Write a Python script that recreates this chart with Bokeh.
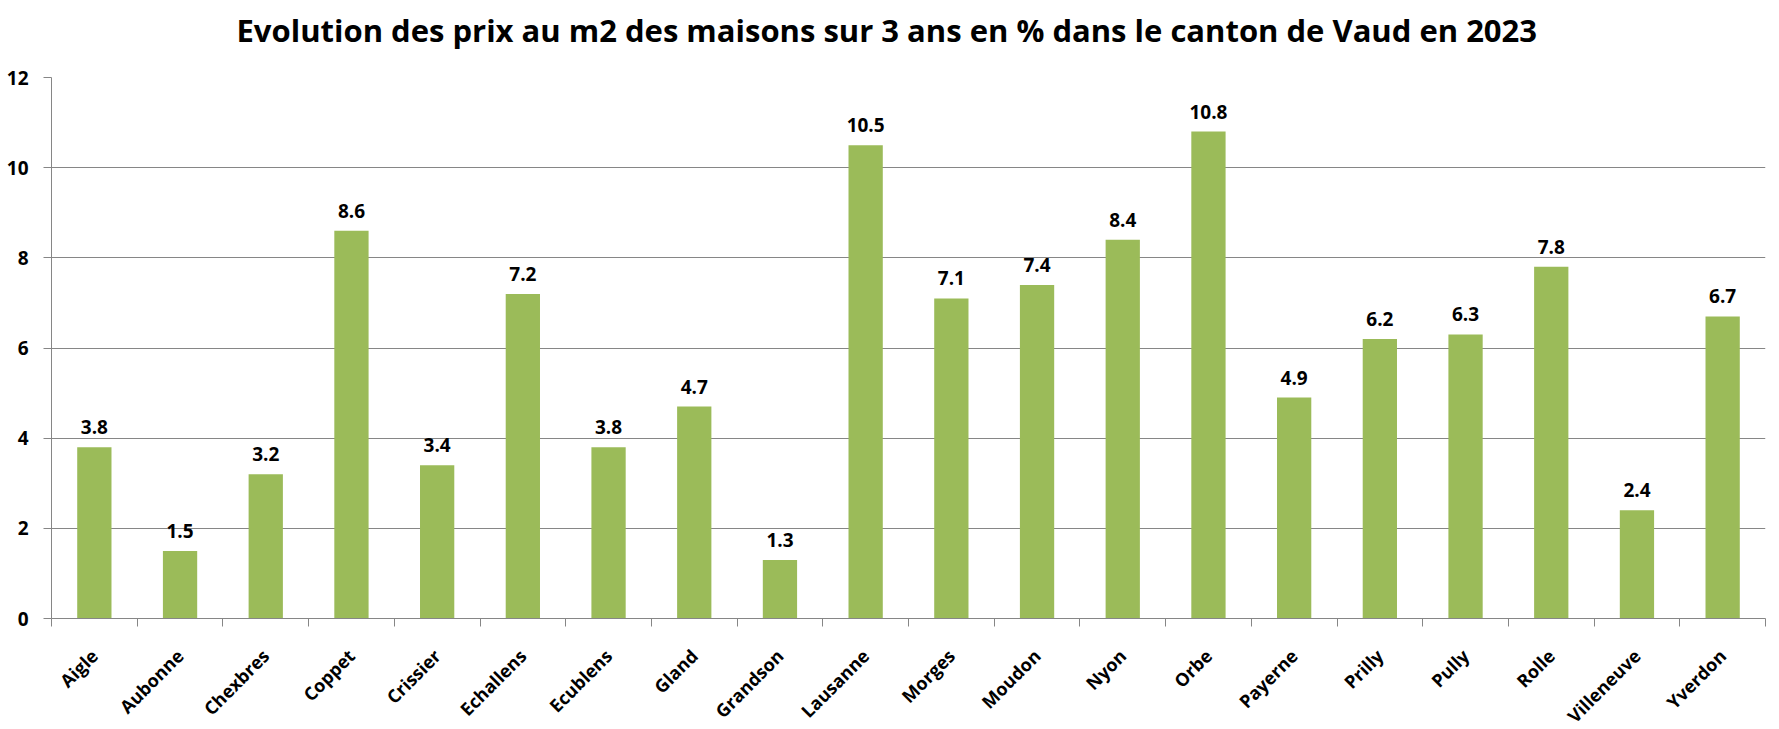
from bokeh.plotting import figure
from bokeh.models import Range1d, FixedTicker, ColumnDataSource, Title
from bokeh.core.properties import value
from bokeh.embed import file_html
from bokeh.resources import INLINE

# ---- data ----
communes = ["Aigle", "Aubonne", "Chexbres", "Coppet", "Crissier", "Echallens",
            "Ecublens", "Gland", "Grandson", "Lausanne", "Morges", "Moudon",
            "Nyon", "Orbe", "Payerne", "Prilly", "Pully", "Rolle",
            "Villeneuve", "Yverdon"]
evolution = [3.8, 1.5, 3.2, 8.6, 3.4, 7.2, 3.8, 4.7, 1.3, 10.5,
             7.1, 7.4, 8.4, 10.8, 4.9, 6.2, 6.3, 7.8, 2.4, 6.7]
y_ticks = [0, 2, 4, 6, 8, 10, 12]
title_text = "Evolution des prix au m2 des maisons sur 3 ans en % dans le canton de Vaud en 2023"

# ---- styling ----
FONT = "Open Sans"
BAR = "#9BBB59"
GREY = "#868686"

n = len(communes)
centers = [i + 0.5 for i in range(n)]
bounds = list(range(n + 1))

src = ColumnDataSource(dict(x=centers, v=evolution,
                            lab=[f"{v:.1f}" for v in evolution]))

p = figure(width=1775, height=741, output_backend="svg", toolbar_location=None,
           x_range=Range1d(0, n), y_range=Range1d(0, 12),
           min_border_left=51, min_border_right=10, min_border_top=77,
           min_border_bottom=123)
p.outline_line_color = None
p.background_fill_color = "white"
p.border_fill_color = "white"

# spacer between title and plot area
p.add_layout(Title(text=" ", text_font_size="1px", standoff=16), "above")

# title
p.title.text = title_text
p.title.align = "left"
p.title.offset = 185
p.title.vertical_align = "top"
p.title.standoff = 12
p.title.text_font = FONT
p.title.text_font_style = "bold"
p.title.text_font_size = "31px"
p.title.text_color = "black"

p.vbar(x="x", top="v", width=0.4, bottom=0, source=src,
       fill_color=BAR, line_color=None)

p.text(x="x", y="v", text="lab", source=src, text_align="center",
       text_baseline="alphabetic", y_offset=-20,
       text_font=value(FONT), text_font_style="bold", text_font_size="19px",
       text_color="black")

# grid
p.xgrid.visible = False
p.ygrid.ticker = FixedTicker(ticks=y_ticks)
p.ygrid.grid_line_color = GREY
p.ygrid.grid_line_width = 1

# x axis
xa = p.xaxis[0]
xa.ticker = FixedTicker(ticks=centers, minor_ticks=bounds)
xa.major_label_overrides = {c: name for c, name in zip(centers, communes)}
xa.major_label_orientation = 0.785398
xa.major_tick_out = 0
xa.major_tick_in = 0
xa.minor_tick_out = 8
xa.minor_tick_in = 0
xa.minor_tick_line_color = GREY
xa.axis_line_color = GREY
xa.major_label_standoff = 26
xa.major_label_text_font = FONT
xa.major_label_text_font_style = "bold"
xa.major_label_text_font_size = "18px"
xa.major_label_text_color = "black"

# y axis
ya = p.yaxis[0]
ya.ticker = FixedTicker(ticks=y_ticks)
ya.major_tick_out = 8
ya.major_tick_in = 0
ya.minor_tick_out = 0
ya.minor_tick_in = 0
ya.major_tick_line_color = GREY
ya.axis_line_color = GREY
ya.major_label_standoff = 15
ya.major_label_text_font = FONT
ya.major_label_text_font_style = "bold"
ya.major_label_text_font_size = "19px"
ya.major_label_text_color = "black"

open("out.html", "w").write(file_html(p, INLINE))
